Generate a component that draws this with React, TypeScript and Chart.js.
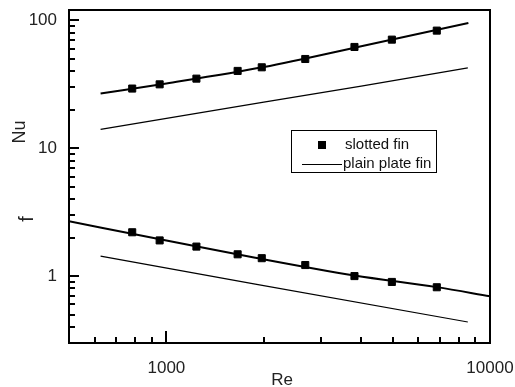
import React, { useEffect, useRef } from 'react';
import { Chart, registerables } from 'chart.js';

Chart.register(...registerables);

// Data
const reSlotted = [784, 953, 1238, 1660, 1971, 2686, 3812, 4974, 6848];
const nuSlotted = [29.2, 31.5, 34.9, 40.1, 42.8, 49.7, 61.7, 70.4, 82.8];
const fSlotted = [2.2, 1.9, 1.7, 1.48, 1.38, 1.22, 1.0, 0.9, 0.818];

const reNuFit = [626, 1000, 2000, 4000, 8574];
const nuFit = [26.7, 32, 43, 62.5, 95];

const reNuPlain = [626, 2000, 4000, 8540];
const nuPlain = [14, 22.9, 30.5, 42.3];

const reFFit = [500, 1000, 1882, 3812, 6848, 10000];
const fFit = [2.68, 1.9, 1.39, 1.01, 0.82, 0.695];

const reFPlain = [626, 1882, 8540];
const fPlain = [1.43, 0.865, 0.438];

const xMajorTicks = [1000, 10000];
const yMajorTicks = [1, 10, 100];
const xMinorTicks = [600, 700, 800, 900, 2000, 3000, 4000, 5000, 6000, 7000, 8000, 9000];
const yMinorTicks = [0.4, 0.5, 0.6, 0.7, 0.8, 0.9, 2, 3, 4, 5, 6, 7, 8, 9, 20, 30, 40, 50, 60, 70, 80, 90];

const legendLabels = ['slotted fin', 'plain plate fin'];
const yTitles = ['Nu', 'f'];
const xTitle = 'Re';

const FONT = "'Liberation Sans', Arial, Helvetica, sans-serif";

const pts = (xs: number[], ys: number[]) => xs.map((x, i) => ({ x, y: ys[i] }));

const framePlugin = {
  id: 'frameAndDecor',
  afterDraw(chart: any) {
    const ctx = chart.ctx as CanvasRenderingContext2D;
    const { left, right, top, bottom } = chart.chartArea;
    const xs = chart.scales.x;
    const ys = chart.scales.y;
    ctx.save();
    ctx.strokeStyle = '#000';
    ctx.lineWidth = 2;
    ctx.strokeRect(left, top, right - left, bottom - top);

    ctx.lineWidth = 2;
    ctx.beginPath();
    xMajorTicks.forEach((v) => {
      const px = Math.round(xs.getPixelForValue(v));
      if (px > left + 2 && px < right - 2) {
        ctx.moveTo(px, bottom);
        ctx.lineTo(px, bottom - 12);
      }
    });
    xMinorTicks.forEach((v) => {
      const px = Math.round(xs.getPixelForValue(v));
      ctx.moveTo(px, bottom);
      ctx.lineTo(px, bottom - 6);
    });
    yMajorTicks.forEach((v) => {
      const py = Math.round(ys.getPixelForValue(v));
      ctx.moveTo(left, py);
      ctx.lineTo(left + 10, py);
    });
    yMinorTicks.forEach((v) => {
      const py = Math.round(ys.getPixelForValue(v));
      ctx.moveTo(left, py);
      ctx.lineTo(left + 6, py);
    });
    ctx.stroke();

    // Titles
    ctx.fillStyle = '#222';
    ctx.font = `17px ${FONT}`;
    ctx.textAlign = 'center';
    ctx.textBaseline = 'middle';
    ctx.fillText(xTitle, 282, 380);
    ctx.font = `18px ${FONT}`;
    ctx.save();
    ctx.translate(20, 132);
    ctx.rotate(-Math.PI / 2);
    ctx.fillText(yTitles[0], 0, 0);
    ctx.restore();
    ctx.font = `20px ${FONT}`;
    ctx.save();
    ctx.translate(27, 219);
    ctx.rotate(-Math.PI / 2);
    ctx.fillText(yTitles[1], 0, 0);
    ctx.restore();

    // Legend
    ctx.lineWidth = 1;
    ctx.strokeStyle = '#000';
    ctx.strokeRect(291.5, 130.5, 145, 42);
    ctx.fillStyle = '#000';
    ctx.fillRect(318, 141, 8, 8);
    ctx.beginPath();
    ctx.moveTo(302, 164.5);
    ctx.lineTo(342, 164.5);
    ctx.stroke();
    ctx.fillStyle = '#111';
    ctx.font = `15px ${FONT}`;
    ctx.textAlign = 'left';
    ctx.textBaseline = 'middle';
    ctx.fillText(legendLabels[0], 345, 145);
    ctx.fillText(legendLabels[1], 343, 164);
    ctx.restore();
  },
};

const zeroPad = (scale: any) => {
  scale.paddingTop = 0;
  scale.paddingBottom = 0;
  scale.paddingLeft = 0;
  scale.paddingRight = 0;
};

export default function App() {
  const ref = useRef<HTMLCanvasElement | null>(null);
  useEffect(() => {
    document.body.style.margin = '0';
    const canvas = ref.current;
    if (!canvas) return;
    const chart = new Chart(canvas, {
      type: 'scatter',
      data: {
        datasets: [
          {
            label: 'Nu fit',
            data: pts(reNuFit, nuFit),
            showLine: true,
            borderColor: '#000',
            borderWidth: 2,
            pointRadius: 0,
            cubicInterpolationMode: 'monotone',
          },
          {
            label: 'Nu slotted',
            data: pts(reSlotted, nuSlotted),
            showLine: false,
            pointStyle: 'rect',
            pointRadius: 5,
            pointBorderWidth: 1,
            backgroundColor: '#000',
            borderColor: '#000',
          },
          {
            label: 'Nu plain',
            data: pts(reNuPlain, nuPlain),
            showLine: true,
            borderColor: '#000',
            borderWidth: 1.2,
            pointRadius: 0,
          },
          {
            label: 'f fit',
            data: pts(reFFit, fFit),
            showLine: true,
            borderColor: '#000',
            borderWidth: 2,
            pointRadius: 0,
            cubicInterpolationMode: 'monotone',
          },
          {
            label: 'f slotted',
            data: pts(reSlotted, fSlotted),
            showLine: false,
            pointStyle: 'rect',
            pointRadius: 5,
            pointBorderWidth: 1,
            backgroundColor: '#000',
            borderColor: '#000',
          },
          {
            label: 'f plain',
            data: pts(reFPlain, fPlain),
            showLine: true,
            borderColor: '#000',
            borderWidth: 1.2,
            pointRadius: 0,
          },
        ],
      },
      options: {
        responsive: false,
        animation: false,
        layout: { padding: { left: 0, top: 10, right: 25, bottom: 0 } },
        plugins: {
          legend: { display: false },
          tooltip: { enabled: false },
          title: { display: false },
        },
        scales: {
          x: {
            type: 'logarithmic',
            min: 500,
            max: 10000,
            grid: { display: false, drawTicks: false },
            border: { display: false },
            afterBuildTicks: (scale: any) => {
              scale.ticks = xMajorTicks.map((v) => ({ value: v }));
            },
            afterFit: (scale: any) => {
              scale.height = 44;
              zeroPad(scale);
            },
            ticks: {
              autoSkip: false,
              maxRotation: 0,
              padding: 15,
              color: '#222',
              font: { family: FONT, size: 17 },
              callback: (v: any) => String(v),
            },
          },
          y: {
            type: 'logarithmic',
            min: 0.3,
            max: 120,
            grid: { display: false, drawTicks: false },
            border: { display: false },
            afterBuildTicks: (scale: any) => {
              scale.ticks = yMajorTicks.map((v) => ({ value: v }));
            },
            afterFit: (scale: any) => {
              scale.width = 69;
              zeroPad(scale);
            },
            ticks: {
              autoSkip: false,
              padding: 12,
              color: '#222',
              font: { family: FONT, size: 17 },
              callback: (v: any) => String(v),
            },
          },
        },
      },
      plugins: [framePlugin],
    } as any);
    return () => chart.destroy();
  }, []);
  return (
    <canvas
      ref={ref}
      width={515}
      height={387}
      style={{ display: 'block', width: 515, height: 387 }}
    />
  );
}
